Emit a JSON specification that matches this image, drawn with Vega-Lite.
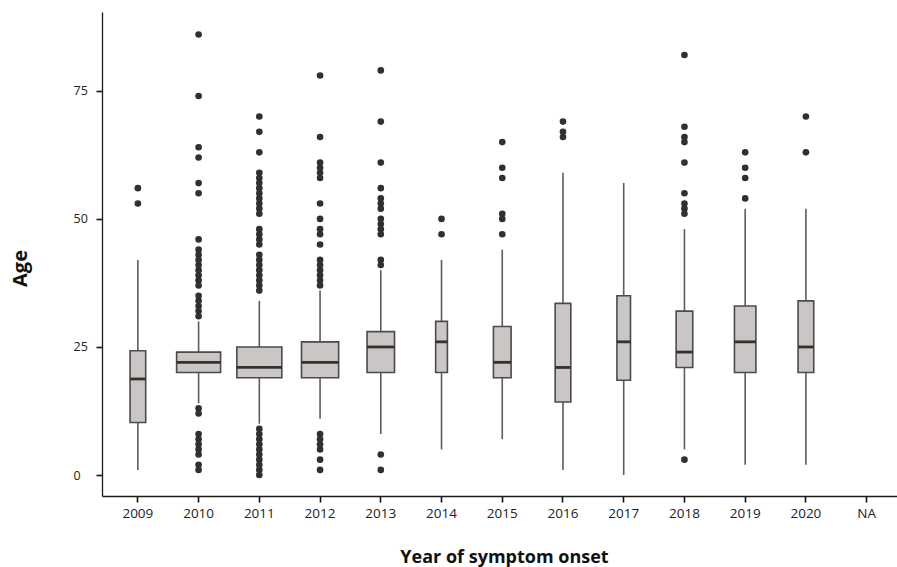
{
  "$schema": "https://vega.github.io/schema/vega-lite/v6.json",
  "width": 795,
  "height": 484,
  "autosize": {"type": "none"},
  "padding": {"left": 102, "top": 12, "right": 0, "bottom": 71},
  "background": "white",
  "config": {
    "view": {"stroke": null},
    "font": "Open Sans",
    "axis": {"grid": false, "domainColor": "#1a1a1a", "domainWidth": 1.3, "tickColor": "#111", "tickWidth": 1.6, "tickSize": 6, "labelColor": "#222", "titleColor": "#111", "labelFont": "Open Sans", "titleFont": "Open Sans"}
  },
  "datasets": {
    "boxes": [
      {"year": "2009", "n": 133, "lower": 1, "q1": 10.25, "median": 18.75, "q3": 24.25, "upper": 42},
      {"year": "2010", "n": 1050, "lower": 14, "q1": 20, "median": 22, "q3": 24, "upper": 30},
      {"year": "2011", "n": 1100, "lower": 10, "q1": 19, "median": 21, "q3": 25, "upper": 34},
      {"year": "2012", "n": 750, "lower": 11, "q1": 19, "median": 22, "q3": 26, "upper": 36},
      {"year": "2013", "n": 410, "lower": 8, "q1": 20, "median": 25, "q3": 28, "upper": 40},
      {"year": "2014", "n": 75, "lower": 5, "q1": 20, "median": 26, "q3": 30, "upper": 42},
      {"year": "2015", "n": 170, "lower": 7, "q1": 19, "median": 22, "q3": 29, "upper": 44},
      {"year": "2016", "n": 133, "lower": 1, "q1": 14.25, "median": 21, "q3": 33.5, "upper": 59},
      {"year": "2017", "n": 100, "lower": 0, "q1": 18.5, "median": 26, "q3": 35, "upper": 57},
      {"year": "2018", "n": 150, "lower": 5, "q1": 21, "median": 24, "q3": 32, "upper": 48},
      {"year": "2019", "n": 250, "lower": 2, "q1": 20, "median": 26, "q3": 33, "upper": 52},
      {"year": "2020", "n": 133, "lower": 2, "q1": 20, "median": 25, "q3": 34, "upper": 52}
    ],
    "outliers": [
      {"year": "2009", "age": 56}, {"year": "2009", "age": 53},
      {"year": "2010", "age": 86}, {"year": "2010", "age": 74}, {"year": "2010", "age": 64}, {"year": "2010", "age": 62}, {"year": "2010", "age": 57}, {"year": "2010", "age": 55}, {"year": "2010", "age": 46}, {"year": "2010", "age": 44}, {"year": "2010", "age": 43}, {"year": "2010", "age": 42}, {"year": "2010", "age": 41}, {"year": "2010", "age": 40}, {"year": "2010", "age": 39}, {"year": "2010", "age": 38}, {"year": "2010", "age": 37}, {"year": "2010", "age": 35}, {"year": "2010", "age": 34}, {"year": "2010", "age": 33}, {"year": "2010", "age": 32}, {"year": "2010", "age": 31},
      {"year": "2010", "age": 13}, {"year": "2010", "age": 12}, {"year": "2010", "age": 8}, {"year": "2010", "age": 7}, {"year": "2010", "age": 6}, {"year": "2010", "age": 5}, {"year": "2010", "age": 4}, {"year": "2010", "age": 2}, {"year": "2010", "age": 1},
      {"year": "2011", "age": 70}, {"year": "2011", "age": 67}, {"year": "2011", "age": 63}, {"year": "2011", "age": 59}, {"year": "2011", "age": 58}, {"year": "2011", "age": 57}, {"year": "2011", "age": 56}, {"year": "2011", "age": 55}, {"year": "2011", "age": 54}, {"year": "2011", "age": 53}, {"year": "2011", "age": 52}, {"year": "2011", "age": 51}, {"year": "2011", "age": 48}, {"year": "2011", "age": 47}, {"year": "2011", "age": 46}, {"year": "2011", "age": 45}, {"year": "2011", "age": 43}, {"year": "2011", "age": 42}, {"year": "2011", "age": 41}, {"year": "2011", "age": 40}, {"year": "2011", "age": 39}, {"year": "2011", "age": 38}, {"year": "2011", "age": 37}, {"year": "2011", "age": 36},
      {"year": "2011", "age": 9}, {"year": "2011", "age": 8}, {"year": "2011", "age": 7}, {"year": "2011", "age": 6}, {"year": "2011", "age": 5}, {"year": "2011", "age": 4}, {"year": "2011", "age": 3}, {"year": "2011", "age": 2}, {"year": "2011", "age": 1}, {"year": "2011", "age": 0},
      {"year": "2012", "age": 78}, {"year": "2012", "age": 66}, {"year": "2012", "age": 61}, {"year": "2012", "age": 60}, {"year": "2012", "age": 59}, {"year": "2012", "age": 58}, {"year": "2012", "age": 53}, {"year": "2012", "age": 50}, {"year": "2012", "age": 48}, {"year": "2012", "age": 47}, {"year": "2012", "age": 45}, {"year": "2012", "age": 42}, {"year": "2012", "age": 41}, {"year": "2012", "age": 40}, {"year": "2012", "age": 39}, {"year": "2012", "age": 38}, {"year": "2012", "age": 37},
      {"year": "2012", "age": 8}, {"year": "2012", "age": 7}, {"year": "2012", "age": 6}, {"year": "2012", "age": 5}, {"year": "2012", "age": 3}, {"year": "2012", "age": 1},
      {"year": "2013", "age": 79}, {"year": "2013", "age": 69}, {"year": "2013", "age": 61}, {"year": "2013", "age": 56}, {"year": "2013", "age": 54}, {"year": "2013", "age": 53}, {"year": "2013", "age": 52}, {"year": "2013", "age": 50}, {"year": "2013", "age": 49}, {"year": "2013", "age": 48}, {"year": "2013", "age": 47}, {"year": "2013", "age": 42}, {"year": "2013", "age": 41}, {"year": "2013", "age": 4}, {"year": "2013", "age": 1},
      {"year": "2014", "age": 50}, {"year": "2014", "age": 47},
      {"year": "2015", "age": 65}, {"year": "2015", "age": 60}, {"year": "2015", "age": 58}, {"year": "2015", "age": 51}, {"year": "2015", "age": 50}, {"year": "2015", "age": 47},
      {"year": "2016", "age": 69}, {"year": "2016", "age": 67}, {"year": "2016", "age": 66},
      {"year": "2018", "age": 82}, {"year": "2018", "age": 68}, {"year": "2018", "age": 66}, {"year": "2018", "age": 65}, {"year": "2018", "age": 61}, {"year": "2018", "age": 55}, {"year": "2018", "age": 53}, {"year": "2018", "age": 52}, {"year": "2018", "age": 51}, {"year": "2018", "age": 3},
      {"year": "2019", "age": 63}, {"year": "2019", "age": 60}, {"year": "2019", "age": 58}, {"year": "2019", "age": 54},
      {"year": "2020", "age": 70}, {"year": "2020", "age": 63}
    ]
  },
  "encoding": {
    "x": {
      "field": "year", "type": "nominal",
      "scale": {"type": "band", "domain": ["2009","2010","2011","2012","2013","2014","2015","2016","2017","2018","2019","2020","NA"], "paddingInner": 0, "paddingOuter": 0.0453, "align": 1},
      "axis": {"title": "Year of symptom onset", "labelAngle": 0, "labelFontSize": 13.5, "labelPadding": 4, "titleFontSize": 18, "titleFontWeight": "bold", "titleX": 402, "titleY": 66, "titleBaseline": "alphabetic", "titleAnchor": null, "titleAlign": "center"}
    }
  },
  "layer": [
    {
      "data": {"name": "boxes"},
      "mark": {"type": "rule", "color": "#5f5b5a", "strokeWidth": 1.6},
      "encoding": {
        "y": {"field": "lower", "type": "quantitative",
          "scale": {"domain": [-4.1, 90.4], "nice": false, "zero": false},
          "axis": {"title": "Age", "values": [0, 25, 50, 75], "labelAlign": "left", "labelPadding": 23, "labelFontSize": 12.5, "labelBaseline": "middle", "titleFontSize": 20, "titleFontWeight": "bold", "titleAngle": -90, "titleX": -82, "titleY": 256, "titleAlign": "center", "titleBaseline": "middle", "titleAnchor": null}},
        "y2": {"field": "upper"}
      }
    },
    {
      "data": {"name": "boxes"},
      "mark": {"type": "bar", "fill": "#cac6c5", "stroke": "#4e4a49", "strokeWidth": 1.6},
      "encoding": {
        "y": {"field": "q1", "type": "quantitative"},
        "y2": {"field": "q3"},
        "size": {"field": "n", "type": "quantitative", "scale": {"type": "sqrt", "domain": [0, 1100], "range": [0, 45]}, "legend": null}
      }
    },
    {
      "data": {"name": "boxes"},
      "mark": {"type": "tick", "color": "#35312f", "thickness": 2.8, "opacity": 1},
      "encoding": {
        "y": {"field": "median", "type": "quantitative"},
        "size": {"field": "n", "type": "quantitative", "legend": null}
      }
    },
    {
      "data": {"name": "outliers"},
      "mark": {"type": "circle", "color": "#332f2e", "size": 44, "opacity": 1},
      "encoding": {
        "y": {"field": "age", "type": "quantitative"}
      }
    }
  ]
}
